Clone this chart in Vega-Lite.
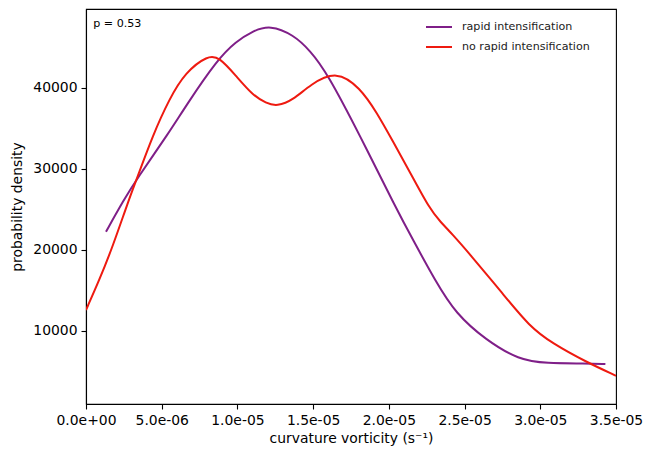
{
  "$schema": "https://vega.github.io/schema/vega-lite/v6.json",
  "width": 530,
  "height": 395,
  "autosize": {"type": "none"},
  "padding": {"left": 86, "top": 9, "right": 30, "bottom": 48},
  "background": "white",
  "config": {
    "font": "DejaVu Sans",
    "view": {"stroke": "black", "strokeWidth": 1.1},
    "axis": {
      "grid": false,
      "domainColor": "black",
      "domainWidth": 1.1,
      "tickColor": "black",
      "tickWidth": 1.1,
      "tickSize": 5,
      "labelColor": "black",
      "labelFontSize": 13.9,
      "labelFont": "DejaVu Sans",
      "titleFont": "DejaVu Sans",
      "titleFontSize": 13.9,
      "titleFontWeight": "normal",
      "titleColor": "black",
      "labelPadding": 4,
      "labelOverlap": false,
      "labelFlush": false
    },
    "legend": {
      "labelFont": "DejaVu Sans",
      "labelFontSize": 11.1,
      "labelColor": "#222222"
    }
  },
  "datasets": {
    "curves": [
      {"x": 1.32e-6, "y": 22230, "series": "rapid intensification"},
      {"x": 2.49e-6, "y": 26140, "series": "rapid intensification"},
      {"x": 3.35e-6, "y": 28735, "series": "rapid intensification"},
      {"x": 5.5e-6, "y": 34500, "series": "rapid intensification"},
      {"x": 6.6e-6, "y": 37790, "series": "rapid intensification"},
      {"x": 8.7e-6, "y": 43550, "series": "rapid intensification"},
      {"x": 9.9e-6, "y": 45700, "series": "rapid intensification"},
      {"x": 11.0e-6, "y": 47000, "series": "rapid intensification"},
      {"x": 12.15e-6, "y": 47750, "series": "rapid intensification"},
      {"x": 13.7e-6, "y": 46550, "series": "rapid intensification"},
      {"x": 14.8e-6, "y": 44600, "series": "rapid intensification"},
      {"x": 15.9e-6, "y": 41910, "series": "rapid intensification"},
      {"x": 18.1e-6, "y": 34080, "series": "rapid intensification"},
      {"x": 20.5e-6, "y": 25030, "series": "rapid intensification"},
      {"x": 21.6e-6, "y": 21200, "series": "rapid intensification"},
      {"x": 23.1e-6, "y": 16050, "series": "rapid intensification"},
      {"x": 24.4e-6, "y": 12150, "series": "rapid intensification"},
      {"x": 26.4e-6, "y": 8850, "series": "rapid intensification"},
      {"x": 28.6e-6, "y": 6380, "series": "rapid intensification"},
      {"x": 30.4e-6, "y": 5970, "series": "rapid intensification"},
      {"x": 33.0e-6, "y": 5970, "series": "rapid intensification"},
      {"x": 34.3e-6, "y": 5890, "series": "rapid intensification"},
      {"x": 0, "y": 12560, "series": "no rapid intensification"},
      {"x": 0.88e-6, "y": 16260, "series": "no rapid intensification"},
      {"x": 1.76e-6, "y": 20370, "series": "no rapid intensification"},
      {"x": 2.82e-6, "y": 26140, "series": "no rapid intensification"},
      {"x": 3.35e-6, "y": 28735, "series": "no rapid intensification"},
      {"x": 4.4e-6, "y": 34080, "series": "no rapid intensification"},
      {"x": 5.5e-6, "y": 38620, "series": "no rapid intensification"},
      {"x": 6.56e-6, "y": 41910, "series": "no rapid intensification"},
      {"x": 8.04e-6, "y": 44000, "series": "no rapid intensification"},
      {"x": 8.8e-6, "y": 43800, "series": "no rapid intensification"},
      {"x": 9.9e-6, "y": 41490, "series": "no rapid intensification"},
      {"x": 11.0e-6, "y": 39100, "series": "no rapid intensification"},
      {"x": 11.9e-6, "y": 38100, "series": "no rapid intensification"},
      {"x": 12.6e-6, "y": 37700, "series": "no rapid intensification"},
      {"x": 13.7e-6, "y": 38500, "series": "no rapid intensification"},
      {"x": 14.8e-6, "y": 40400, "series": "no rapid intensification"},
      {"x": 16.55e-6, "y": 42150, "series": "no rapid intensification"},
      {"x": 18.1e-6, "y": 40000, "series": "no rapid intensification"},
      {"x": 19.2e-6, "y": 36970, "series": "no rapid intensification"},
      {"x": 20.3e-6, "y": 33270, "series": "no rapid intensification"},
      {"x": 21.4e-6, "y": 29560, "series": "no rapid intensification"},
      {"x": 22.7e-6, "y": 25030, "series": "no rapid intensification"},
      {"x": 23.4e-6, "y": 23460, "series": "no rapid intensification"},
      {"x": 24.2e-6, "y": 21900, "series": "no rapid intensification"},
      {"x": 25.3e-6, "y": 19560, "series": "no rapid intensification"},
      {"x": 27.5e-6, "y": 14620, "series": "no rapid intensification"},
      {"x": 29.3e-6, "y": 10490, "series": "no rapid intensification"},
      {"x": 30.8e-6, "y": 8440, "series": "no rapid intensification"},
      {"x": 33.0e-6, "y": 6170, "series": "no rapid intensification"},
      {"x": 35.0e-6, "y": 4440, "series": "no rapid intensification"}
    ],
    "note": [
      {"x": 0.48e-6, "y": 47500, "label": "p = 0.53"}
    ]
  },
  "layer": [
    {
      "data": {"name": "curves"},
      "mark": {"type": "line", "interpolate": "basis", "strokeWidth": 2, "clip": true},
      "encoding": {
        "x": {
          "field": "x",
          "type": "quantitative",
          "scale": {"domain": [0, 3.5e-5], "nice": false, "zero": false},
          "axis": {
            "title": "curvature vorticity (s⁻¹)",
            "values": [0, 5e-6, 1e-5, 1.5e-5, 2e-5, 2.5e-5, 3e-5, 3.5e-5],
            "labelExpr": "replace(replace(format(datum.value, '.1e'), 'e-', 'e-0'), 'e+', 'e+0')",
            "titlePadding": 5
          }
        },
        "y": {
          "field": "y",
          "type": "quantitative",
          "scale": {"domain": [950, 49730], "nice": false, "zero": false},
          "axis": {
            "title": "probability density",
            "values": [10000, 20000, 30000, 40000],
            "format": "d",
            "titlePadding": 8
          }
        },
        "color": {
          "field": "series",
          "type": "nominal",
          "scale": {
            "domain": ["rapid intensification", "no rapid intensification"],
            "range": ["#7f1f88", "#ee1a10"]
          },
          "legend": {
            "title": null,
            "orient": "none",
            "legendX": 339,
            "legendY": 4,
            "symbolType": "stroke",
            "symbolSize": 676,
            "symbolStrokeWidth": 2,
            "labelOffset": 9,
            "rowPadding": -2
          }
        }
      }
    },
    {
      "data": {"name": "note"},
      "mark": {"type": "text", "align": "left", "baseline": "alphabetic", "fontSize": 11.1, "font": "DejaVu Sans", "color": "black"},
      "encoding": {
        "x": {"field": "x", "type": "quantitative"},
        "y": {"field": "y", "type": "quantitative"},
        "text": {"field": "label"}
      }
    }
  ]
}
